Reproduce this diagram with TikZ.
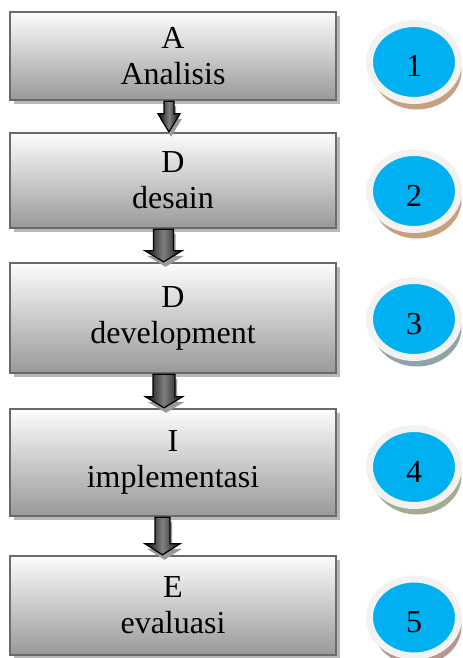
\documentclass[tikz,border=0pt]{standalone}
\usepackage{fontspec}
\setmainfont{Liberation Serif}
\usepackage{tikz}
\usetikzlibrary{calc,shadows,shapes.geometric}
\definecolor{stageblue}{HTML}{00B0F0}
\definecolor{ringgray}{HTML}{F2F2F2}
\definecolor{framegray}{HTML}{6A6A6A}
\definecolor{shadetan}{HTML}{C9A07E}
\definecolor{shadeslate}{HTML}{8FA3A8}
\definecolor{shadeolive}{HTML}{A5AA92}
\definecolor{shademauve}{HTML}{B8958E}
\newcommand{\stagearrow}[6]{%
  \path ($(#1.south)+(#3,0)$) coordinate (tail) ($(#2.north)+(#3,0)$) coordinate (tip);
  \draw[flowarrow] ($(tail)+(-#4,0)$) -- ($(tip)+(-#4,-#6)$) -- ($(tip)+(-#5,-#6)$) -- (tip)
    -- ($(tip)+(#5,-#6)$) -- ($(tip)+(#4,-#6)$) -- ($(tail)+(#4,0)$) -- cycle;}

\begin{document}
\begin{tikzpicture}[x=0.5pt,y=-0.5pt,
  stage/.style={rectangle,draw=framegray,line width=1.2pt,top color=black!1,bottom color=black!40,
    minimum width=163pt,inner sep=0pt,align=center,font=\fontsize{16}{18}\selectfont,
    drop shadow={shadow xshift=1.8pt,shadow yshift=-1.8pt,fill=black!28,opacity=1}},
  badge/.style={ellipse,inner sep=0pt,minimum width=44.5pt,minimum height=38.5pt,fill=stageblue,
    draw=ringgray,line width=3.5pt,font=\fontsize{16}{18}\selectfont,text height=15pt,text depth=0pt,
    drop shadow={shadow xshift=1.5pt,shadow yshift=-4.5pt,fill=#1,opacity=1}},
  flowarrow/.style={draw=black,line width=0.6pt,left color=black!95,right color=black!95,middle color=black!50,
    drop shadow={shadow xshift=1pt,shadow yshift=-2.5pt,fill=black!40,opacity=1}}]
  \useasboundingbox (0,0) rectangle (462,658);
  \node[stage,minimum height=44pt] (analisis) at (173,56) {A\\Analisis};
  \node[stage,minimum height=47.5pt] (desain) at (173,180.5) {D\\desain};
  \node[stage,minimum height=55pt] (development) at (173,318) {D\\development};
  \node[stage,minimum height=53.5pt] (implementasi) at (173,462.5) {I\\implementasi};
  \node[stage,minimum height=49.5pt] (evaluasi) at (173,605.5) {E\\evaluasi};
  \stagearrow{analisis}{desain}{-4}{5}{11}{18}
  \stagearrow{desain}{development}{-9.5}{10}{18.5}{11}
  \stagearrow{development}{implementasi}{-9}{11}{18.5}{11}
  \stagearrow{implementasi}{evaluasi}{-10.5}{7.5}{17.5}{11}
  \node[badge=shadetan] (n1) at (414,62) {1};
  \node[badge=shadetan] (n2) at (414,191) {2};
  \node[badge=shadeslate] (n3) at (414,319) {3};
  \node[badge=shadeolive] (n4) at (414,467) {4};
  \node[badge=shademauve] (n5) at (414,617.5) {5};
\end{tikzpicture}
\end{document}
